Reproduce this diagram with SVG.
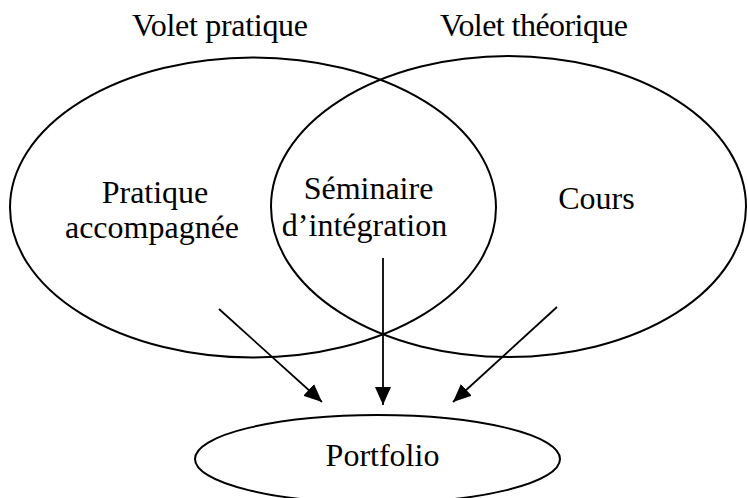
<svg xmlns="http://www.w3.org/2000/svg" width="748" height="498" viewBox="0 0 748 498">
<style>
.shape{fill:none;stroke:#000;stroke-width:2}
.lbl{font-family:"Liberation Serif","Times New Roman",serif;font-size:32px;fill:#000}
.mid{text-anchor:middle}
.conn{stroke:#000;stroke-width:1.8;fill:none}
</style>
<defs>
<marker id="ah" markerUnits="userSpaceOnUse" markerWidth="20" markerHeight="18" refX="18" refY="8" orient="auto" viewBox="0 0 20 16">
<path d="M0,0 L18,8 L0,16 Z" fill="#000"/>
</marker>
</defs>
<rect width="748" height="498" fill="#fff"/>
<text class="lbl" x="132" y="36" textLength="176" lengthAdjust="spacing">Volet pratique</text>
<text class="lbl" x="440" y="36" textLength="188" lengthAdjust="spacing">Volet théorique</text>
<g id="volet-pratique">
<ellipse class="shape" cx="253" cy="207.5" rx="243" ry="150"/>
<text class="lbl mid" x="155" y="203">Pratique</text>
<text class="lbl mid" x="152" y="238">accompagnée</text>
</g>
<g id="volet-theorique">
<ellipse class="shape" cx="508.5" cy="206.5" rx="237.5" ry="150.5"/>
<text class="lbl mid" x="596.5" y="209">Cours</text>
</g>
<g id="seminaire">
<text class="lbl mid" x="368.5" y="199">Séminaire</text>
<text class="lbl mid" x="364.5" y="236">d’intégration</text>
</g>
<g id="portfolio">
<ellipse class="shape" cx="377.5" cy="459" rx="182.5" ry="44"/>
<text class="lbl mid" x="382.5" y="466">Portfolio</text>
</g>
<g id="connectors">
<line class="conn" x1="219" y1="309" x2="322" y2="402" marker-end="url(#ah)"/>
<line class="conn" x1="383" y1="258" x2="383" y2="405" marker-end="url(#ah)"/>
<line class="conn" x1="557" y1="307" x2="453" y2="402" marker-end="url(#ah)"/>
</g>
</svg>
